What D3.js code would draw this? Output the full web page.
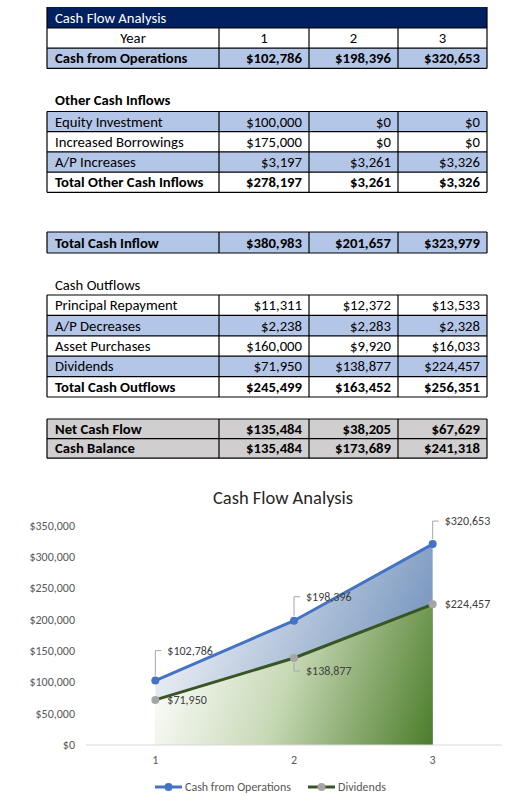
<!DOCTYPE html>
<html>
<head>
<meta charset="utf-8">
<script src="https://cdn.jsdelivr.net/npm/d3@7"></script>
<style>
  body { margin: 0; background: #fff; }
  svg text { font-family: Carlito, Calibri, "Liberation Sans", sans-serif; }
</style>
</head>
<body>
<div id="container"></div>
<script>
    // Data
    let years = ["1", "2", "3"];
    let cashFromOps = [102786, 198396, 320653];
    let equityInvestment = [100000, 0, 0];
    let increasedBorrowings = [175000, 0, 0];
    let apIncreases = [3197, 3261, 3326];
    let totalOtherInflows = [278197, 3261, 3326];
    let totalCashInflow = [380983, 201657, 323979];
    let principalRepayment = [11311, 12372, 13533];
    let apDecreases = [2238, 2283, 2328];
    let assetPurchases = [160000, 9920, 16033];
    let dividends = [71950, 138877, 224457];
    let totalOutflows = [245499, 163452, 256351];
    let netCashFlow = [135484, 38205, 67629];
    let cashBalance = [135484, 173689, 241318];
    let yTicks = [0, 50000, 100000, 150000, 200000, 250000, 300000, 350000];

    let money = v => "$" + d3.format(",")(v);

    let svg = d3.select("#container").append("svg")
        .attr("width", 522)
        .attr("height", 800);

    // ---------- Table ----------
    let colEdges = [47, 219, 309, 398, 487];
    let blue = "#B4C6E7", gray = "#D0CECE", navy = "#002060";
    let fs = 14.7;

    // blocks of rows: top y, row height, rows
    let blocks = [
        { top: 28, h: 20.2, rows: [
            { label: "Year", vals: years, fill: "#fff", bold: false, center: true },
            { label: "Cash from Operations", vals: cashFromOps, fill: blue, bold: true }
        ]},
        { top: 111.5, h: 20.2, rows: [
            { label: "Equity Investment", vals: equityInvestment, fill: blue },
            { label: "Increased Borrowings", vals: increasedBorrowings, fill: "#fff" },
            { label: "A/P Increases", vals: apIncreases, fill: blue },
            { label: "Total Other Cash Inflows", vals: totalOtherInflows, fill: "#fff", bold: true }
        ]},
        { top: 232, h: 21, rows: [
            { label: "Total Cash Inflow", vals: totalCashInflow, fill: blue, bold: true }
        ]},
        { top: 295, h: 20.4, rows: [
            { label: "Principal Repayment", vals: principalRepayment, fill: "#fff" },
            { label: "A/P Decreases", vals: apDecreases, fill: blue },
            { label: "Asset Purchases", vals: assetPurchases, fill: "#fff" },
            { label: "Dividends", vals: dividends, fill: blue },
            { label: "Total Cash Outflows", vals: totalOutflows, fill: "#fff", bold: true }
        ]},
        { top: 419, h: 19.6, rows: [
            { label: "Net Cash Flow", vals: netCashFlow, fill: gray, bold: true },
            { label: "Cash Balance", vals: cashBalance, fill: gray, bold: true }
        ]}
    ];

    let table = svg.append("g");

    // title bar
    table.append("rect")
        .attr("x", colEdges[0]).attr("y", 7)
        .attr("width", colEdges[4] - colEdges[0]).attr("height", 21)
        .attr("fill", navy);
    table.append("text")
        .attr("x", 55).attr("y", 22.5)
        .attr("font-size", fs).attr("fill", "#fff")
        .text("Cash Flow Analysis");

    // section labels
    table.append("text").attr("x", 55).attr("y", 105)
        .attr("font-size", fs).attr("font-weight", "bold").text("Other Cash Inflows");
    table.append("text").attr("x", 55).attr("y", 290)
        .attr("font-size", fs).text("Cash Outflows");

    blocks.forEach(b => {
        let g = table.append("g");
        b.rows.forEach((r, i) => {
            let y = b.top + i * b.h;
            g.append("rect")
                .attr("x", colEdges[0]).attr("y", y)
                .attr("width", colEdges[4] - colEdges[0]).attr("height", b.h)
                .attr("fill", r.fill);
            g.append("text")
                .attr("x", r.center ? (colEdges[0] + colEdges[1]) / 2 : 55)
                .attr("y", y + b.h / 2 + 5)
                .attr("text-anchor", r.center ? "middle" : "start")
                .attr("font-size", fs)
                .attr("font-weight", r.bold ? "bold" : "normal")
                .text(r.label);
            r.vals.forEach((v, j) => {
                g.append("text")
                    .attr("x", r.center ? (colEdges[j + 1] + colEdges[j + 2]) / 2 : colEdges[j + 2] - 7)
                    .attr("y", y + b.h / 2 + 5)
                    .attr("text-anchor", r.center ? "middle" : "end")
                    .attr("font-size", fs)
                    .attr("font-weight", r.bold ? "bold" : "normal")
                    .text(r.center ? v : money(v));
            });
            // horizontal line
            g.append("line")
                .attr("x1", colEdges[0]).attr("x2", colEdges[4])
                .attr("y1", y).attr("y2", y)
                .attr("stroke", "#000").attr("stroke-width", 1.2);
        });
        let bottom = b.top + b.rows.length * b.h;
        g.append("line")
            .attr("x1", colEdges[0]).attr("x2", colEdges[4])
            .attr("y1", bottom).attr("y2", bottom)
            .attr("stroke", "#000").attr("stroke-width", 1.2);
        let vTop = b.top === 28 ? 7 : b.top;
        colEdges.forEach((cx, k) => {
            g.append("line")
                .attr("x1", cx).attr("x2", cx)
                .attr("y1", k === 0 || k === 4 ? vTop : b.top).attr("y2", bottom)
                .attr("stroke", "#000").attr("stroke-width", 1.2);
        });
    });

    // ---------- Chart ----------
    let x = d3.scalePoint().domain(years).range([86, 502]).padding(0.5);
    let y = d3.scaleLinear().domain([0, 350000]).range([745, 525.7]);

    let chart = svg.append("g");

    chart.append("text")
        .attr("x", 283).attr("y", 504)
        .attr("text-anchor", "middle")
        .attr("font-size", 18.5).attr("fill", "#262626")
        .text("Cash Flow Analysis");

    let defs = svg.append("defs");
    let gBlue = defs.append("linearGradient").attr("id", "gBlue")
        .attr("gradientUnits", "userSpaceOnUse")
        .attr("x1", x("1")).attr("y1", y(200000)).attr("x2", x("3")).attr("y2", y(0));
    gBlue.append("stop").attr("offset", 0).attr("stop-color", "#f4f6f9");
    gBlue.append("stop").attr("offset", 1).attr("stop-color", "#5f83b3");
    let gGreen = defs.append("linearGradient").attr("id", "gGreen")
        .attr("gradientUnits", "userSpaceOnUse")
        .attr("x1", x("1")).attr("y1", y(150000)).attr("x2", x("3")).attr("y2", y(0));
    gGreen.append("stop").attr("offset", 0).attr("stop-color", "#ffffff");
    gGreen.append("stop").attr("offset", 0.45).attr("stop-color", "#c8d9b6");
    gGreen.append("stop").attr("offset", 1).attr("stop-color", "#4c7d2a");

    let area = vals => d3.area()
        .x((d, i) => x(years[i]))
        .y0(y(0))
        .y1(d => y(d))(vals);
    let line = vals => d3.line()
        .x((d, i) => x(years[i]))
        .y(d => y(d))(vals);

    chart.append("path").attr("d", area(cashFromOps)).attr("fill", "url(#gBlue)");
    chart.append("path").attr("d", area(dividends)).attr("fill", "url(#gGreen)");

    // y axis labels
    chart.append("g").selectAll("text").data(yTicks).enter().append("text")
        .attr("x", 75).attr("y", d => y(d) + 4)
        .attr("text-anchor", "end")
        .attr("font-size", 12).attr("fill", "#595959")
        .text(d => money(d));

    // x axis
    chart.append("line")
        .attr("x1", 86).attr("x2", 502)
        .attr("y1", y(0)).attr("y2", y(0))
        .attr("stroke", "#d9d9d9").attr("stroke-width", 1);
    chart.append("g").selectAll("text").data(years).enter().append("text")
        .attr("x", d => x(d)).attr("y", 764)
        .attr("text-anchor", "middle")
        .attr("font-size", 12).attr("fill", "#595959")
        .text(d => d);

    // lines + markers
    chart.append("path").attr("d", line(cashFromOps))
        .attr("fill", "none").attr("stroke", "#4472C4").attr("stroke-width", 3);
    chart.append("path").attr("d", line(dividends))
        .attr("fill", "none").attr("stroke", "#375623").attr("stroke-width", 3);
    chart.append("g").selectAll("circle").data(cashFromOps).enter().append("circle")
        .attr("cx", (d, i) => x(years[i])).attr("cy", d => y(d)).attr("r", 4)
        .attr("fill", "#4472C4");
    chart.append("g").selectAll("circle").data(dividends).enter().append("circle")
        .attr("cx", (d, i) => x(years[i])).attr("cy", d => y(d)).attr("r", 4)
        .attr("fill", "#A5A5A5");

    // data labels (label shift relative to its point, in px)
    let opsShift = [-30, -24, -23];
    let divShift = [0, 13, 0];
    function labels(vals, shift) {
        vals.forEach((v, i) => {
            let px = x(years[i]), py = y(v), ly = py + shift[i];
            if (shift[i] !== 0) {
                let dir = shift[i] < 0 ? -1 : 1;
                chart.append("polyline")
                    .attr("points", `${px},${py + dir * 5} ${px},${ly} ${px + 6},${ly}`)
                    .attr("fill", "none").attr("stroke", "#a6a6a6").attr("stroke-width", 1);
            }
            chart.append("text")
                .attr("x", px + 12).attr("y", ly + 4)
                .attr("font-size", 12).attr("fill", "#404040")
                .text(money(v));
        });
    }
    labels(cashFromOps, opsShift);
    labels(dividends, divShift);

    // legend
    let legend = chart.append("g");
    [{ name: "Cash from Operations", color: "#4472C4", marker: "#4472C4", x0: 155 },
     { name: "Dividends", color: "#375623", marker: "#A5A5A5", x0: 308 }].forEach(s => {
        legend.append("line")
            .attr("x1", s.x0).attr("x2", s.x0 + 27)
            .attr("y1", 787).attr("y2", 787)
            .attr("stroke", s.color).attr("stroke-width", 3);
        legend.append("circle")
            .attr("cx", s.x0 + 13.5).attr("cy", 787).attr("r", 4).attr("fill", s.marker);
        legend.append("text")
            .attr("x", s.x0 + 30).attr("y", 791)
            .attr("font-size", 12).attr("fill", "#595959")
            .text(s.name);
    });
</script>
</body>
</html>
